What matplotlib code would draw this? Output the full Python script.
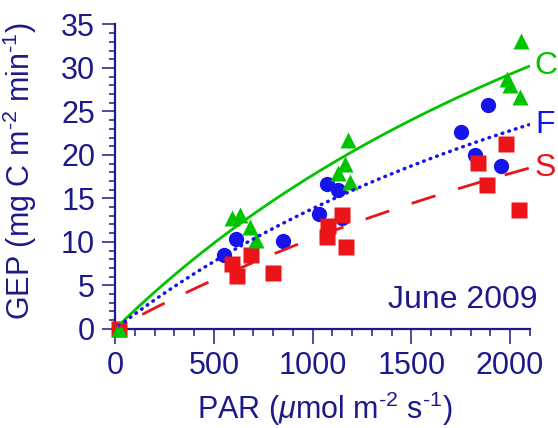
import numpy as np
import matplotlib.pyplot as plt

# data: PAR vs GEP for the three sites
par_c = [20, 590, 632, 682, 713, 1130, 1164, 1181, 1189, 1983, 2000, 2054, 2051]
gep_c = [0, 12.7, 13.1, 11.7, 10.2, 17.9, 18.9, 21.7, 16.9, 28.7, 28.0, 33.1, 26.7]

par_f = [20, 551, 612, 848, 1034, 1071, 1130, 1147, 1750, 1823, 1890, 1953]
gep_f = [0, 8.5, 10.3, 10.1, 13.2, 16.6, 16.0, 12.7, 22.6, 20.0, 25.7, 18.7]

par_s = [20, 590, 615, 686, 797, 1071, 1080, 1150, 1169, 1840, 1882, 1978, 2046]
gep_s = [0, 7.5, 6.1, 8.5, 6.4, 10.6, 11.8, 13.1, 9.4, 19.1, 16.5, 21.2, 13.7]

# rectangular hyperbola fits  GEP = pmax * PAR / (k + PAR)
pmax = {"C": 85.3, "F": 64.7, "S": 64.0}
khalf = {"C": 3827, "F": 3681, "S": 5165}

navy = "#1c1a8a"
green = "#00c400"
blue = "#1414eb"
red = "#eb1419"

plt.rcParams["font.family"] = ["Liberation Sans", "DejaVu Sans"]
plt.rcParams["mathtext.fontset"] = "custom"
plt.rcParams["mathtext.rm"] = "Liberation Sans"
plt.rcParams["mathtext.it"] = "Liberation Sans:italic"
plt.rcParams["lines.scale_dashes"] = False

fig = plt.figure(figsize=(5.58, 4.28), dpi=100)
ax = fig.add_axes([0.2066, 0.2318, 0.7427, 0.711])

ax.plot(par_f, gep_f, "o", color=blue, ms=11, mec="none", clip_on=False, zorder=3)
ax.plot(par_s, gep_s, "s", color=red, ms=11, mec="none", clip_on=False, zorder=4)
ax.plot(par_c, gep_c, "^", color=green, ms=11.5, mec="none", clip_on=False, zorder=5)

x = np.linspace(20, 2095, 200)
xr = x[::-1]  # red dashes start from the right end, as in the original
ax.plot(x, pmax["C"] * x / (khalf["C"] + x), "-", color=green, lw=2.0, zorder=6)
ax.plot(x, pmax["F"] * x / (khalf["F"] + x), color=blue, lw=2.5,
        dashes=(0.5, 4.5), dash_capstyle="round", zorder=6)
ax.plot(xr, pmax["S"] * xr / (khalf["S"] + xr), color=red, lw=2.0,
        dashes=(18, 17), zorder=6)

for name, col in [("C", green), ("F", blue), ("S", red)]:
    yend = pmax[name] * 2095 / (khalf[name] + 2095)
    ax.text(2180, yend, name, color=col, fontsize=23, ha="center", va="center",
            clip_on=False)

ax.text(2140, 2.4, "June 2009", color=navy, fontsize=23, ha="right", va="baseline")

ax.set_xlim(0, 2100)
ax.set_ylim(0, 35)
ax.set_xticks([0, 500, 1000, 1500, 2000])
ax.set_xticks(np.arange(0, 2101, 100), minor=True)
ax.set_yticks(np.arange(0, 36, 5))
ax.set_yticks(np.arange(0, 36, 1), minor=True)

for side in ["top", "right"]:
    ax.spines[side].set_visible(False)
for side in ["left", "bottom"]:
    ax.spines[side].set_color(navy)
    ax.spines[side].set_linewidth(1.6)

ax.tick_params(axis="both", which="both", direction="out", color=navy,
               labelcolor=navy, labelsize=22, width=1.1)
ax.tick_params(axis="y", which="major", length=9.5, pad=5)
ax.tick_params(axis="y", which="minor", length=4)
ax.tick_params(axis="x", which="major", length=11, pad=5)
ax.tick_params(axis="x", which="minor", length=5)

ax.set_xlabel(r"PAR ($\mu$mol m$^{\text{-}2}$ s$^{\text{-}1}$)", color=navy, fontsize=22)
ax.set_ylabel(r"GEP (mg C m$^{\text{-}2}$ min$^{\text{-}1}$)", color=navy, fontsize=22)
ax.xaxis.set_label_coords(0.506, -0.2)
ax.yaxis.set_label_coords(-0.185, 0.518)

fig.savefig("out.png", dpi=100, facecolor="white")
